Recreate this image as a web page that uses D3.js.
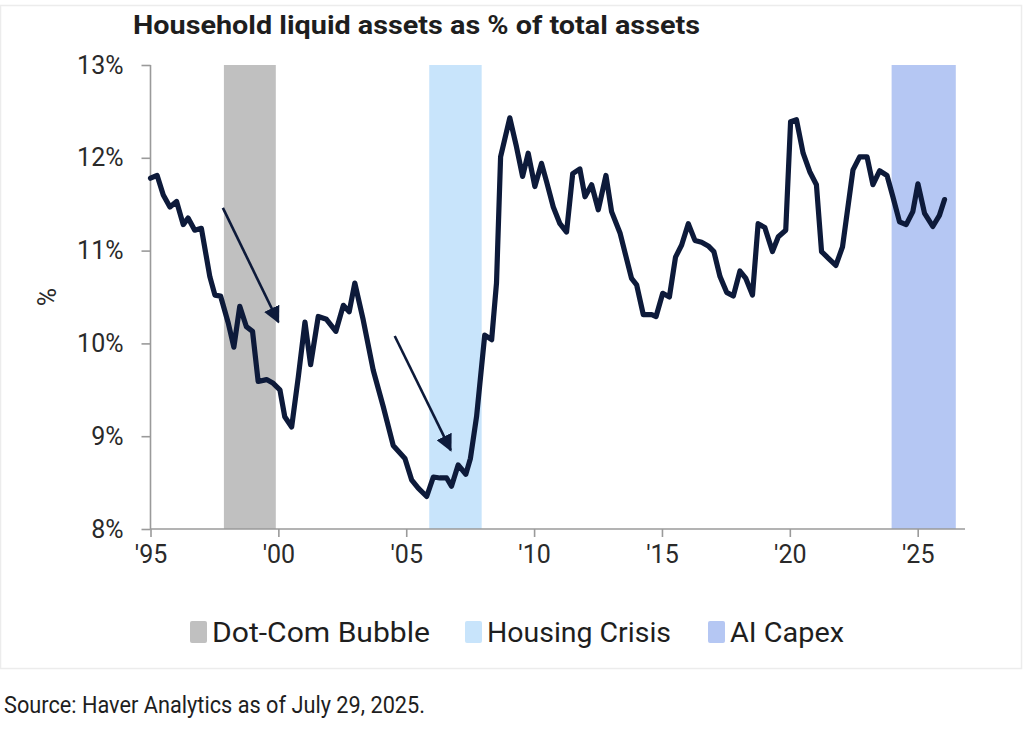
<!DOCTYPE html>
<html><head><meta charset="utf-8">
<script src="https://cdn.jsdelivr.net/npm/d3@7"></script>
<style>html,body{margin:0;padding:0;background:#fff;}svg{display:block;}</style>
</head><body>
<svg id="chart" width="1024" height="733"></svg>
<script>
// ---- data ----
const years = [1995.00,1995.26,1995.50,1995.76,1996.02,1996.28,1996.47,1996.73,1996.99,1997.32,1997.52,1997.74,
1998.04,1998.26,1998.49,1998.75,1998.99,1999.21,1999.54,1999.80,2000.06,2000.25,2000.52,2000.78,2001.04,2001.26,
2001.56,2001.88,2002.25,2002.54,2002.77,2002.99,2003.32,2003.71,2004.10,2004.49,2004.95,2005.21,2005.47,2005.80,
2006.06,2006.32,2006.58,2006.77,2007.03,2007.33,2007.51,2007.75,2008.07,2008.34,2008.53,2008.69,2009.05,2009.31,
2009.55,2009.77,2010.03,2010.29,2010.49,2010.75,2011.01,2011.27,2011.51,2011.79,2011.99,2012.25,2012.51,2012.81,
2013.03,2013.36,2013.81,2014.01,2014.27,2014.60,2014.77,2015.03,2015.29,2015.53,2015.77,2016.03,2016.29,2016.55,
2016.81,2017.03,2017.27,2017.53,2017.79,2018.05,2018.28,2018.54,2018.76,2019.02,2019.32,2019.55,2019.84,2020.03,
2020.26,2020.52,2020.78,2021.04,2021.24,2021.50,2021.80,2022.06,2022.47,2022.73,2023.02,2023.25,2023.51,2023.80,
2024.03,2024.29,2024.55,2024.81,2025.01,2025.27,2025.59,2025.85,2026.05];
const liquidShare = [11.78,11.81,11.60,11.47,11.53,11.28,11.35,11.22,11.24,10.72,10.52,10.51,
10.22,9.96,10.40,10.18,10.13,9.59,9.61,9.57,9.50,9.21,9.10,9.64,10.23,9.77,
10.29,10.26,10.13,10.41,10.34,10.65,10.25,9.71,9.32,8.90,8.76,8.53,8.44,8.35,
8.56,8.55,8.55,8.46,8.69,8.59,8.76,9.21,10.09,10.04,10.65,12.01,12.43,12.12,
11.80,12.05,11.69,11.94,11.74,11.47,11.29,11.20,11.83,11.88,11.58,11.71,11.44,11.81,
11.42,11.19,10.70,10.63,10.31,10.31,10.29,10.54,10.50,10.93,11.06,11.29,11.11,11.09,
11.05,10.99,10.72,10.55,10.51,10.78,10.70,10.52,11.29,11.25,10.99,11.15,11.22,12.39,
12.41,12.05,11.85,11.71,10.99,10.92,10.84,11.04,11.87,12.01,12.01,11.71,11.86,11.81,
11.58,11.31,11.28,11.42,11.72,11.40,11.26,11.38,11.55];

const bandNames  = ["Dot-Com Bubble","Housing Crisis","AI Capex"];
const bandStarts = [1997.87, 2005.90, 2023.98];
const bandEnds   = [1999.90, 2007.95, 2026.49];
const bandColors = ["#c0c0c0","#c8e4fb","#b5c7f3"];

const yTicks = [8,9,10,11,12,13];
const xTicks = [1995,2000,2005,2010,2015,2020,2025];
const xTickLabels = ["'95","'00","'05","'10","'15","'20","'25"];

const arrowStartYears = [1997.83, 2004.55];
const arrowStartVals  = [11.46, 10.08];
const arrowEndYears   = [2000.00, 2006.74];
const arrowEndVals    = [10.23, 8.85];

const titleText = "Household liquid assets as % of total assets";
const sourceText = "Source: Haver Analytics as of July 29, 2025.";

// ---- drawing ----
const svg = d3.select("#chart");
const FONT = "Roboto, 'Noto Sans', 'DejaVu Sans', sans-serif";
const navy = "#0d1a3a";

// panel border
svg.append("rect").attr("x",0.5).attr("y",5.5).attr("width",1021).attr("height",663)
  .attr("fill","#fff").attr("stroke","#ececec").attr("stroke-width",1.5);

const x = d3.scaleLinear().domain([1995, 2026.85]).range([150.5, 965]);
const y = d3.scaleLinear().domain([8, 13]).range([529, 65]);

// bands
svg.append("g").selectAll("rect").data(bandNames).join("rect")
  .attr("x",(d,i)=>x(bandStarts[i]))
  .attr("width",(d,i)=>x(bandEnds[i])-x(bandStarts[i]))
  .attr("y",y(13)).attr("height",y(8)-y(13))
  .attr("fill",(d,i)=>bandColors[i]);

// y axis
const yAxis = svg.append("g").attr("transform",`translate(${x(1995)},0)`)
  .call(d3.axisLeft(y).tickValues(yTicks).tickFormat(d=>d+"%").tickSize(9).tickPadding(18));
// x axis
const xAxis = svg.append("g").attr("transform",`translate(0,${y(8)})`)
  .call(d3.axisBottom(x).tickValues(xTicks).tickFormat((d,i)=>xTickLabels[i]).tickSize(8).tickPadding(8));
[yAxis,xAxis].forEach(a=>{
  a.select(".domain").attr("stroke","#9a9a9a").attr("stroke-width",1.6);
  a.selectAll(".tick line").attr("stroke","#9a9a9a").attr("stroke-width",1.6);
  a.selectAll(".tick text").attr("fill","#2a2a2a").style("font-family",FONT).style("font-size","25px");
});
xAxis.select(".domain").attr("d",`M${x(1995)},0H965`);
yAxis.select(".domain").attr("d",`M-0,${y(13)}V${y(8)}`);

// axis title
svg.append("text").attr("transform","translate(56,297) rotate(-90)")
  .attr("text-anchor","middle").attr("fill","#2a2a2a")
  .style("font-family",FONT).style("font-size","25px").text("%");

// line
const line = d3.line().x((d,i)=>x(years[i])).y(d=>y(d)).curve(d3.curveLinear);
svg.append("path").datum(liquidShare).attr("d",line)
  .attr("fill","none").attr("stroke",navy).attr("stroke-width",5.2)
  .attr("stroke-linejoin","round").attr("stroke-linecap","round");

// arrows
svg.append("defs").append("marker").attr("id","ah").attr("viewBox","0 0 10 10")
  .attr("refX",9).attr("refY",5).attr("markerWidth",6.5).attr("markerHeight",6.5)
  .attr("markerUnits","strokeWidth").attr("orient","auto")
  .append("path").attr("d","M0,0L10,5L0,10Z").attr("fill",navy);
svg.append("g").selectAll("line").data(arrowStartYears).join("line")
  .attr("x1",(d,i)=>x(arrowStartYears[i])).attr("y1",(d,i)=>y(arrowStartVals[i]))
  .attr("x2",(d,i)=>x(arrowEndYears[i])).attr("y2",(d,i)=>y(arrowEndVals[i]))
  .attr("stroke",navy).attr("stroke-width",2.6).attr("marker-end","url(#ah)");

// title
svg.append("text").attr("x",133).attr("y",34).attr("fill","#1e1e1e")
  .style("font-family",FONT).style("font-size","25px").style("font-weight","bold")
  .attr("textLength",567).attr("lengthAdjust","spacingAndGlyphs").text(titleText);

// legend
const legX = [190, 465, 708];
const legTextLen = [218, 184, 114];
const leg = svg.append("g").selectAll("g").data(bandNames).join("g")
  .attr("transform",(d,i)=>`translate(${legX[i]},0)`);
leg.append("rect").attr("x",0).attr("y",621).attr("width",17).attr("height",22).attr("rx",2)
  .attr("fill",(d,i)=>bandColors[i]);
leg.append("text").attr("x",22).attr("y",642).attr("fill","#1e1e1e")
  .style("font-family",FONT).style("font-size","27px")
  .attr("textLength",(d,i)=>legTextLen[i]).attr("lengthAdjust","spacingAndGlyphs").text(d=>d);

// source
svg.append("text").attr("x",4).attr("y",713).attr("fill","#1e1e1e")
  .style("font-family",FONT).style("font-size","23px")
  .attr("textLength",421).attr("lengthAdjust","spacingAndGlyphs").text(sourceText);
</script>
</body></html>
